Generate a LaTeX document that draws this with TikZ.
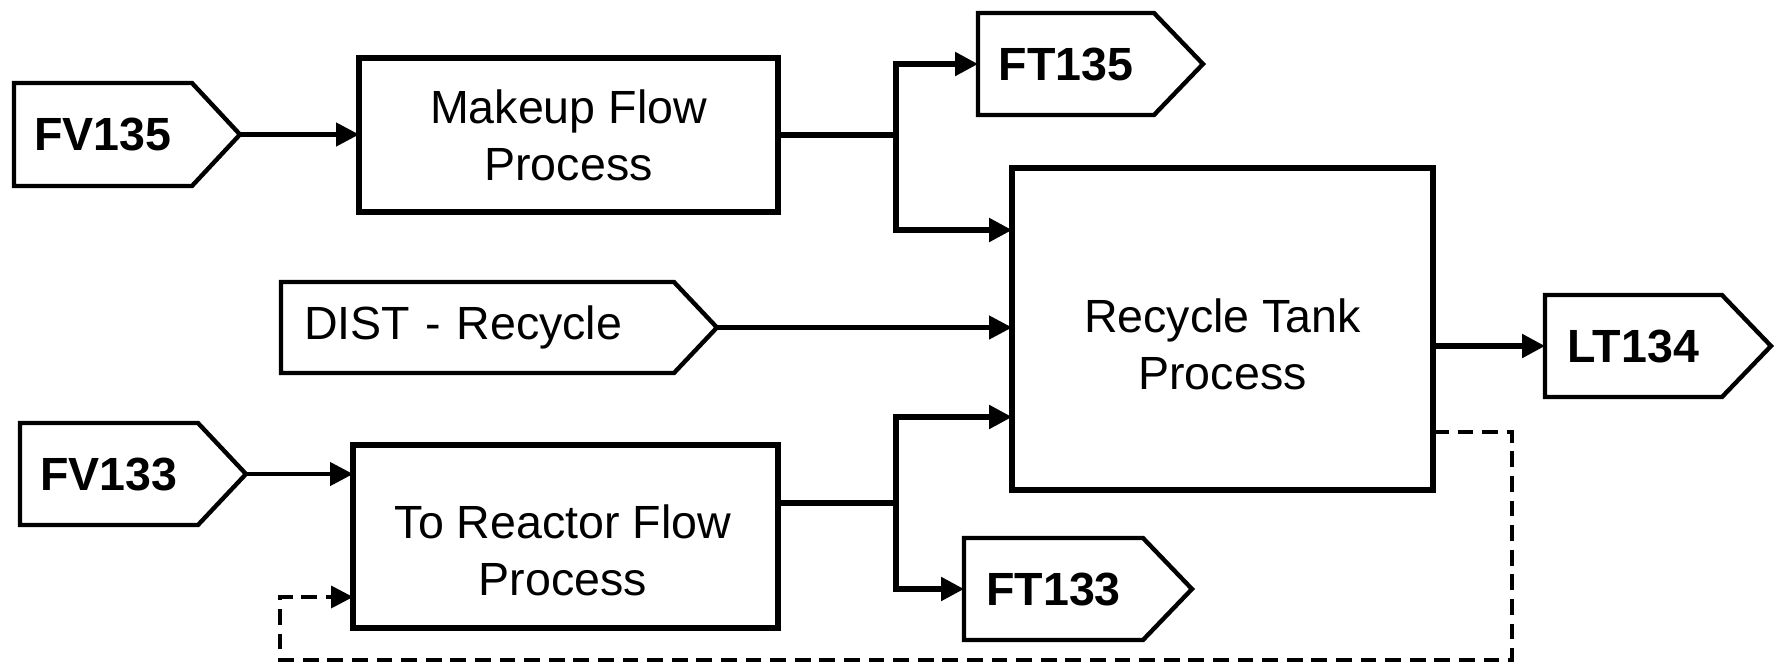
\documentclass[tikz,border=0pt]{standalone}
\usepackage{fontspec}
\setmainfont{Liberation Sans}
\usetikzlibrary{arrows.meta,calc}
\newcommand\tagoutline[2]{%
  \coordinate (#1tip) at ([xshift=#2]#1.east);
  \draw[tagline] (#1.north west) -- (#1.north east) -- (#1tip) -- (#1.south east) -- (#1.south west) -- cycle;}
\begin{document}
\begin{tikzpicture}[x=0.02cm,y=-0.02cm,
  box/.style={draw,line width=3pt,inner sep=0pt,outer sep=0pt,align=center,
    font=\fontsize{26.5}{32.4}\selectfont},
  tag/.style={inner sep=0pt,outer sep=0pt,font=\fontsize{26.5}{32}\selectfont\bfseries},
  tagline/.style={line width=2.5pt,line join=miter},
  lbl/.style={inner sep=0pt,align=center,font=\fontsize{26.5}{32.4}\selectfont},
  conn/.style={line width=3pt},
  arr/.style={line width=3pt,-{Triangle[length=0.46cm,width=0.46cm]}},
  thinarr/.style={line width=2.5pt,-{Triangle[length=0.46cm,width=0.46cm]}},
  fbdash/.style={line width=2pt,dash pattern=on 9pt off 5pt,-{Triangle[length=0.44cm,width=0.44cm]}}]
\useasboundingbox (0,0) rectangle (1785,664);

% process boxes
\node[box,minimum width=8.38cm,minimum height=3.08cm] (makeup) at (568.5,135) {Makeup Flow\\Process};
\node[box,minimum width=8.42cm,minimum height=6.44cm] (rt) at (1222.5,329) {};
\node[lbl] (rtlabel) at (1222.5,344) {Recycle Tank\\Process};
\node[box,minimum width=8.5cm,minimum height=3.66cm] (reactor) at (565.5,536.5) {};
\node[lbl] (reactorlabel) at (563,550.5) {To Reactor Flow\\Process};

% tags
\node[tag,minimum width=3.56cm,minimum height=2.06cm] (fv135) at (103,134.5) {FV135};
\tagoutline{fv135}{0.96cm}
\node[tag,minimum width=3.52cm,minimum height=2.04cm] (ft135) at (1066,64) {FT135};
\tagoutline{ft135}{0.98cm}
\node[tag,font=\fontsize{26.5}{32}\selectfont,minimum height=1.82cm,inner xsep=0.46cm,
  text width=6.94cm,align=left] (dist) at (477.5,327.5) {DIST - Recycle};
\tagoutline{dist}{0.86cm}
\node[tag,minimum width=3.54cm,minimum height=2.04cm] (lt134) at (1633.5,346) {LT134};
\tagoutline{lt134}{0.98cm}
\node[tag,minimum width=3.56cm,minimum height=2.04cm] (fv133) at (109,474) {FV133};
\tagoutline{fv133}{0.96cm}
\node[tag,minimum width=3.58cm,minimum height=2.04cm] (ft133) at (1053.5,589) {FT133};
\tagoutline{ft133}{0.98cm}

% helper coordinates
\coordinate (br) at (896,0);
\coordinate (rtin1) at ([yshift=-1.24cm]rt.north west);
\coordinate (rtin3) at ([yshift=1.46cm]rt.south west);
\coordinate (rtout2) at ([yshift=1.16cm]rt.south east);
\coordinate (reactorout) at ([yshift=0.67cm]reactor.east);
\coordinate (reactorin) at ([yshift=0.62cm]reactor.south west);
\coordinate (dcorner) at (1512,660);
\coordinate (dleft) at (280,660);

% connectors
\draw[thinarr] (fv135tip) -- (fv135tip -| makeup.west);
\draw[conn] (makeup.east) -- (makeup.east -| br);
\draw[arr] (makeup.east -| br) |- (ft135.west);
\draw[arr] (makeup.east -| br) |- (rtin1);
\draw[thinarr] (disttip) -- (disttip -| rt.west);
\draw[arr] (rt.east |- lt134.west) -- (lt134.west);
\draw[thinarr] (fv133tip) -- (fv133tip -| reactor.west);
\draw[conn] (reactorout) -- (reactorout -| br);
\draw[arr] (reactorout -| br) |- (rtin3);
\draw[arr] (reactorout -| br) |- (ft133.west);
\draw[fbdash] (rtout2) -| (dcorner) -- (dleft) |- (reactorin);
\end{tikzpicture}
\end{document}
